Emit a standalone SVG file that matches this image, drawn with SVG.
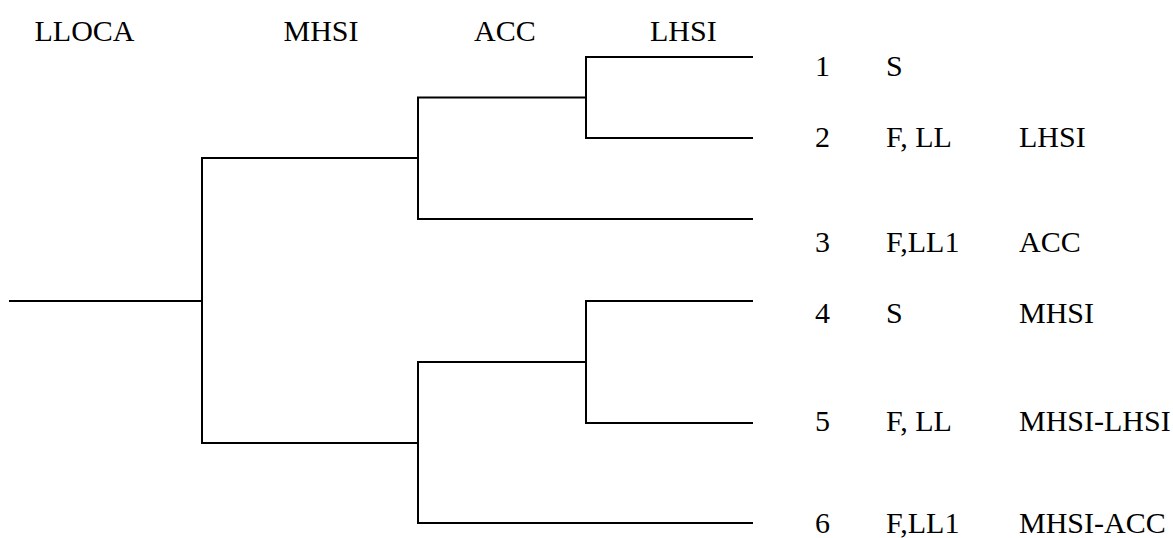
<svg xmlns="http://www.w3.org/2000/svg" width="1173" height="538" viewBox="0 0 1173 538">
<style>
.ln{fill:none;stroke:#000;stroke-width:2;stroke-linecap:square}
.t{font-family:"Liberation Serif","Times New Roman",serif;font-size:30px;fill:#000}
</style>
<rect width="1173" height="538" fill="#fff"/>
<g class="t">
<g id="headers">
<text x="34.5" y="41">LLOCA</text>
<text x="283.5" y="41">MHSI</text>
<text x="474" y="41">ACC</text>
<text x="650" y="41">LHSI</text>
</g>
<g id="row1"><text x="815" y="76">1</text><text x="886" y="76">S</text></g>
<g id="row2"><text x="815" y="147">2</text><text x="886" y="147">F, LL</text><text x="1019" y="147">LHSI</text></g>
<g id="row3"><text x="815" y="252">3</text><text x="886" y="252">F,LL1</text><text x="1019" y="252">ACC</text></g>
<g id="row4"><text x="815" y="323">4</text><text x="886" y="323">S</text><text x="1019" y="323">MHSI</text></g>
<g id="row5"><text x="815" y="431">5</text><text x="886" y="431">F, LL</text><text x="1019" y="431">MHSI-LHSI</text></g>
<g id="row6"><text x="815" y="533">6</text><text x="886" y="533">F,LL1</text><text x="1019" y="533">MHSI-ACC</text></g>
</g>
<g id="connectors">
<path class="ln" d="M10 301H202"/>
<path class="ln" d="M418 158H202V443H418"/>
<path class="ln" d="M586 97.5H418V219H752"/>
<path class="ln" d="M752 57H586V138H752"/>
<path class="ln" d="M586 362H418V523H752"/>
<path class="ln" d="M752 301H586V423H752"/>
</g>
</svg>
